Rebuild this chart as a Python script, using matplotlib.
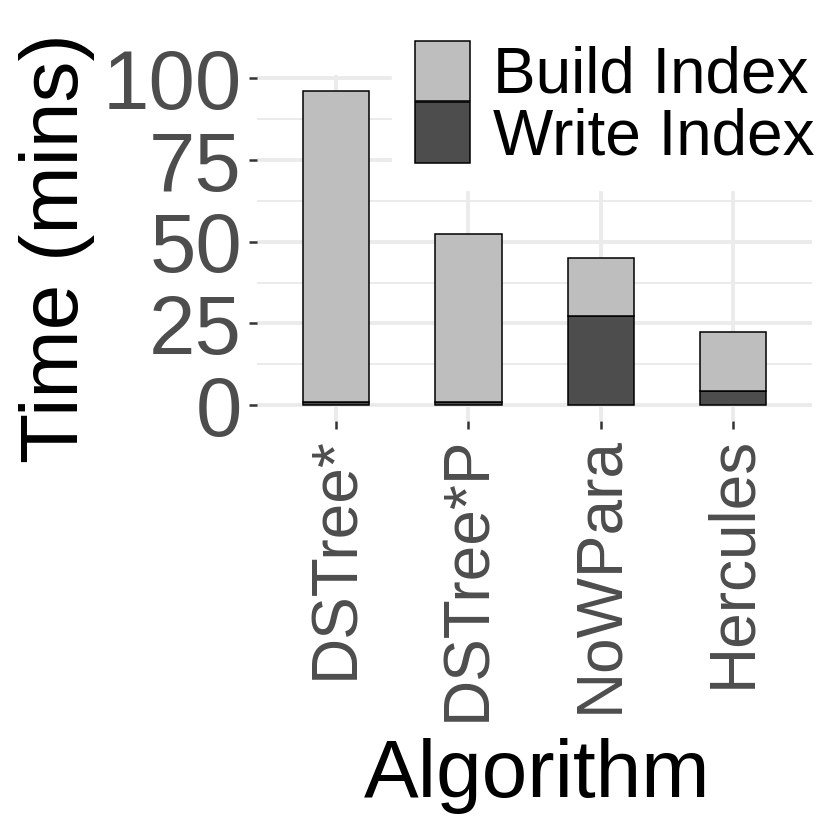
import numpy as np
import matplotlib
matplotlib.use("Agg")
import matplotlib.pyplot as plt
from matplotlib.patches import Patch

plt.rcParams['font.family'] = ['Liberation Sans', 'DejaVu Sans']

# Data (minutes)
algorithms = ["DSTree*", "DSTree*P", "NoWPara", "Hercules"]
write_index = [1.0, 1.0, 27.1, 4.4]
build_index = [95.2, 51.2, 17.9, 17.8]   # stacked on top of write time

build_color = "#BEBEBE"
write_color = "#4D4D4D"

fig = plt.figure(figsize=(8.3, 8.3), dpi=100)
ax = fig.add_axes([0.3096, 0.4931, 0.669, 0.4165])

x = np.arange(len(algorithms))
ax.bar(x, write_index, width=0.5, color=write_color, edgecolor="black",
       linewidth=1.1, zorder=3)
ax.bar(x, build_index, width=0.5, bottom=write_index, color=build_color,
       edgecolor="black", linewidth=1.1, zorder=3)

totals = np.array(write_index) + np.array(build_index)
ymax = totals.max()
ax.set_ylim(-0.05 * ymax, 1.05 * ymax)
ax.set_xlim(-0.6, len(algorithms) - 0.4)

# ggplot-like minimal theme
for s in ax.spines.values():
    s.set_visible(False)
ax.set_yticks([0, 25, 50, 75, 100])
ax.set_yticks([12.5, 37.5, 62.5, 87.5], minor=True)
ax.set_xticks(x)
ax.set_xticklabels(algorithms, rotation=90, fontsize=46, color="#4D4D4D")
ax.tick_params(axis="y", labelsize=60, labelcolor="#4D4D4D")
ax.tick_params(which="major", color="#333333", width=1.8, length=5.8, pad=5)
ax.tick_params(which="minor", length=0)
ax.grid(which="major", color="#EBEBEB", linewidth=2.8, zorder=0)
ax.grid(which="minor", axis="y", color="#EBEBEB", linewidth=1.4, zorder=0)
ax.set_axisbelow(True)

ax.set_ylabel("Time (mins)", fontsize=59, color="black", va="center")
ax.yaxis.set_label_coords(-0.36, 0.5)
ax.set_xlabel("Algorithm", fontsize=59, color="black", va="baseline")
ax.xaxis.set_label_coords(0.505, -1.0885)

handles = [Patch(facecolor=build_color, edgecolor="black", linewidth=1.1),
           Patch(facecolor=write_color, edgecolor="black", linewidth=1.1)]
leg = fig.legend(handles, ["Build Index", "Write Index"], loc="upper left",
                 bbox_to_anchor=(0.4726, 0.978), fontsize=46, frameon=True,
                 facecolor="white", edgecolor="white", framealpha=1,
                 fancybox=False, borderpad=0.35, handlelength=0.86,
                 handleheight=1.08, handletextpad=0.36, labelspacing=-0.05,
                 borderaxespad=0)

fig.savefig("out.png", dpi=100)
